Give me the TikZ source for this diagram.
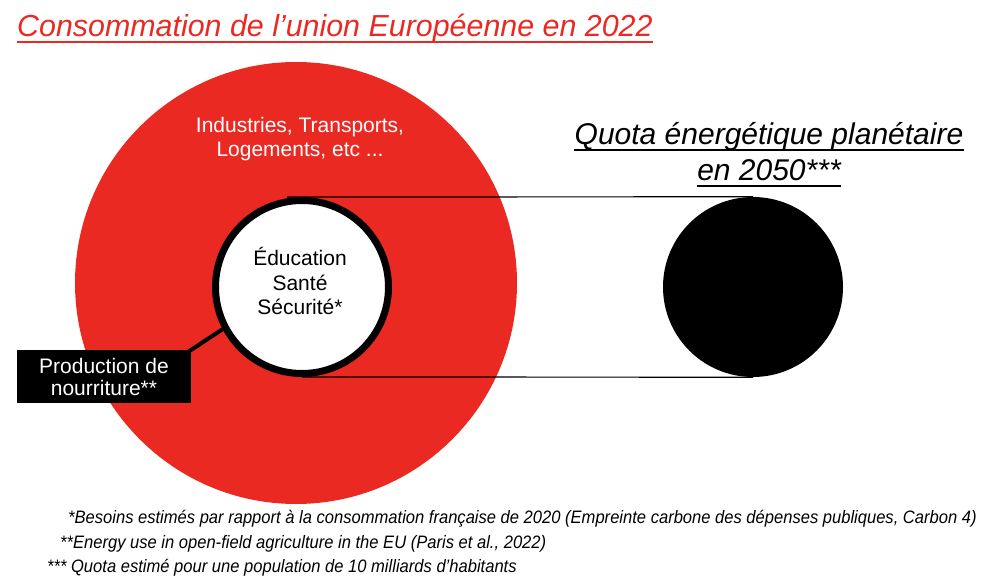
\documentclass[tikz,border=0pt]{standalone}
\usepackage{fontspec}
\setmainfont{Liberation Sans}
\newfontfamily\fnfont[FakeStretch=0.92]{Liberation Sans}
\definecolor{eured}{RGB}{234,41,34}
\begin{document}
\begin{tikzpicture}[x=1pt,y=-1pt,
  txt/.style={inner sep=0pt, align=center},
  fn/.style={inner sep=0pt, anchor=base west, font=\fnfont\itshape\fontsize{18}{21}\selectfont}]
\useasboundingbox (0,0) rectangle (994,580);
% big red circle
\node[circle, fill=eured, minimum size=442, inner sep=0pt] (eu) at (296,283) {};
% black quota circle
\node[circle, fill=black, minimum size=180, inner sep=0pt] (quota) at (753,287) {};
% inner white circle
\node[circle, draw=black, line width=7pt, fill=white, minimum size=173, inner sep=0pt] (inner) at (302,287) {};
% connecting lines
\draw[line width=1.2pt] ([xshift=-15pt]inner.north) -- (quota.north);
\draw[line width=1.2pt] (inner.south) -- (quota.south);
% production box
\node[fill=black, minimum width=174, minimum height=53, inner sep=0pt, text=white, align=center,
      font=\fontsize{21}{22}\selectfont] (prod) at (104,376.5) {Production de\\nourriture**};
\draw[line width=4pt] ([xshift=-3pt,yshift=-2pt]prod.north east) -- (inner.208);
% texts
\node[txt, text=white, font=\fontsize{21}{24}\selectfont, anchor=base] (ind) at (300,157) {Industries, Transports,\\Logements, etc ...};
\node[txt, font=\fontsize{21}{24.5}\selectfont, anchor=base] (edu) at (300,315) {Éducation\\Santé\\Sécurité*};
% title
\node[inner sep=0pt, anchor=base west, text=eured, font=\itshape\fontsize{30.4}{34}\selectfont] (title) at (17,37) {Consommation de l’union Européenne en 2022};
\draw[eured, line width=1.8pt] ([yshift=-5pt]title.base west) -- ([yshift=-5pt]title.base east);
% quota title
\node[inner sep=0pt, anchor=base, font=\itshape\fontsize{30}{33}\selectfont] (q1) at (769,145) {Quota énergétique planétaire};
\draw[line width=1.5pt] ([yshift=-5pt]q1.base west) -- ([yshift=-5pt]q1.base east);
\node[inner sep=0pt, anchor=base, font=\itshape\fontsize{30}{33}\selectfont] (q2) at (769,181) {en 2050***};
\draw[line width=1.5pt] ([yshift=-5pt]q2.base west) -- ([yshift=-5pt]q2.base east);
% footnotes
\node[fn] (f1) at (68,523) {*Besoins estimés par rapport à la consommation française de 2020 (Empreinte carbone des dépenses publiques, Carbon 4)};
\node[fn] (f2) at (60,548) {**Energy use in open-field agriculture in the EU (Paris et al., 2022)};
\node[fn] (f3) at (47,572) {*** Quota estimé pour une population de 10 milliards d’habitants};
\end{tikzpicture}
\end{document}
